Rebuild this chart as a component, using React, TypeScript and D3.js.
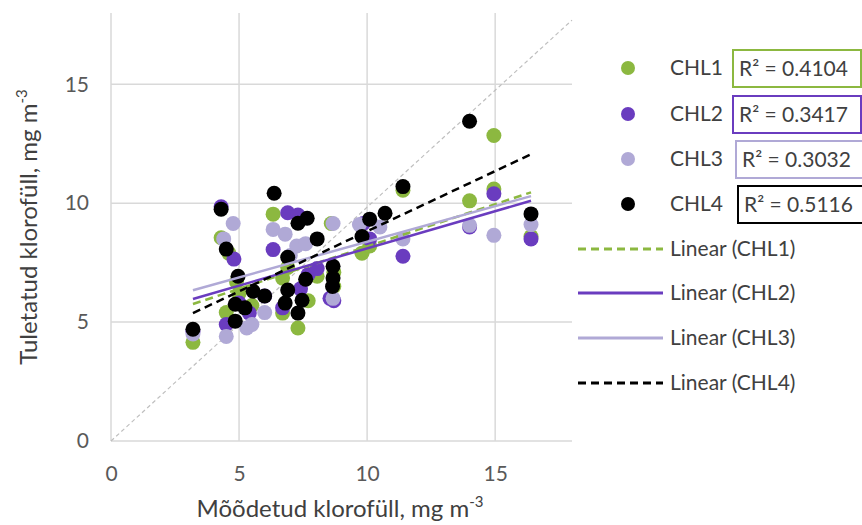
import { useEffect, useRef } from 'react'
import * as d3 from 'd3'

const seriesNames = ['CHL1', 'CHL2', 'CHL3', 'CHL4']
const rSquared = ['0.4104', '0.3417', '0.3032', '0.5116']
const xTicks = [0, 5, 10, 15]
const yTicks = [0, 5, 10, 15]

const chl1 = [
  [3.2, 4.15], [4.3, 8.55], [4.6, 7.9], [4.9, 6.7], [4.5, 5.4], [5.0, 6.2], [5.5, 5.7],
  [6.33, 9.54], [6.7, 6.85], [6.7, 5.38], [7.3, 4.75], [7.7, 5.9], [8.05, 6.93], [8.6, 9.15],
  [6.9, 7.3], [8.7, 7.1], [8.7, 6.5], [9.8, 7.9], [10.1, 8.2], [11.4, 10.55], [14.0, 10.1],
  [14.95, 12.85], [14.95, 10.6], [16.4, 8.6],
]
const chl2 = [
  [3.2, 4.6], [4.3, 9.85], [4.8, 7.65], [4.5, 4.9], [5.4, 5.38], [5.0, 5.8], [6.0, 6.1],
  [6.33, 8.05], [6.7, 5.6], [6.9, 9.6], [7.3, 9.5], [7.4, 6.4], [7.7, 7.0], [8.05, 7.25],
  [8.55, 6.0], [8.7, 5.9], [9.85, 9.15], [10.1, 8.5], [11.4, 7.77], [14.0, 9.0],
  [14.95, 10.4], [16.4, 8.5],
]
const chl3 = [
  [3.2, 4.5], [4.77, 9.15], [4.4, 8.5], [4.5, 4.4], [5.3, 4.75], [5.5, 4.9], [6.0, 5.4],
  [6.33, 8.9], [6.8, 8.7], [7.0, 7.8], [7.25, 8.2], [7.6, 8.3], [8.67, 9.15], [8.67, 6.0],
  [9.7, 9.1], [10.5, 9.0], [11.4, 8.5], [14.0, 9.07], [14.95, 8.65], [16.4, 9.1],
]
const chl4 = [
  [3.2, 4.7], [4.3, 9.75], [4.5, 8.07], [4.96, 6.93], [4.85, 5.75], [5.23, 5.6], [4.85, 5.04],
  [5.55, 6.3], [6.0, 6.1], [6.37, 10.42], [6.9, 7.73], [6.9, 6.35], [6.8, 5.8], [7.3, 9.16],
  [7.66, 9.37], [7.46, 5.92], [7.3, 5.38], [7.6, 6.8], [8.05, 8.5], [8.67, 7.35], [8.67, 6.85],
  [8.65, 6.5], [9.8, 8.6], [10.1, 9.33], [10.7, 9.58], [11.4, 10.7], [14.0, 13.45], [16.4, 9.55],
]

// linear trendlines as Excel drew them (slope, intercept), over the measured range
const trendSlopes = [0.356, 0.313, 0.3, 0.506]
const trendIntercepts = [4.62, 4.97, 5.38, 3.76]
const trendRange = [3.2, 16.4]
const oneToOne = [[0, 0], [18, 17.7]]

const colors = ['#8cb840', '#6a3cbf', '#b0a9d6', '#000000']
const dashes = ['8,5', null, null, '8,5']
const font = 'Lato, "Liberation Sans", sans-serif'

function App() {
  const ref = useRef<SVGSVGElement>(null)

  useEffect(() => {
    const width = 862,
      height = 525
    const x = d3.scaleLinear().domain([0, 18]).range([111, 572])
    const y = d3.scaleLinear().domain([0, 18]).range([441, 13])
    const xy = d3
      .line<number[]>()
      .x((d) => x(d[0]))
      .y((d) => y(d[1]))

    const svg = d3.select(ref.current)
    svg.selectAll('*').remove()
    svg.attr('width', width).attr('height', height)
    svg.append('rect').attr('width', width).attr('height', height).attr('fill', '#fff')

    // grid
    svg
      .append('g')
      .selectAll('line')
      .data(yTicks)
      .join('line')
      .attr('x1', x(0))
      .attr('x2', x(18))
      .attr('y1', (d) => y(d))
      .attr('y2', (d) => y(d))
      .attr('stroke', '#d9d9d9')
      .attr('stroke-width', 1.5)
    svg
      .append('g')
      .selectAll('line')
      .data(xTicks)
      .join('line')
      .attr('x1', (d) => x(d))
      .attr('x2', (d) => x(d))
      .attr('y1', y(0))
      .attr('y2', y(18))
      .attr('stroke', '#d9d9d9')
      .attr('stroke-width', 1.5)

    // axes (labels only)
    const xAxis = svg
      .append('g')
      .attr('transform', `translate(0,${y(0)})`)
      .call(d3.axisBottom(x).tickValues(xTicks).tickSize(0).tickPadding(25))
    const yAxis = svg
      .append('g')
      .attr('transform', `translate(${x(0)},0)`)
      .call(d3.axisLeft(y).tickValues(yTicks).tickSize(0).tickPadding(22))
    ;[xAxis, yAxis].forEach((g) => {
      g.select('.domain').remove()
      g.selectAll('text').attr('font-family', font).attr('font-size', 21).attr('fill', '#595959')
    })

    // 1:1 line
    svg
      .append('path')
      .attr('d', xy(oneToOne))
      .attr('stroke', '#bfbfbf')
      .attr('stroke-width', 1.2)
      .attr('stroke-dasharray', '4,3')
      .attr('fill', 'none')

    // points
    const series = [chl1, chl2, chl3, chl4]
    series.forEach((pts, i) => {
      svg
        .append('g')
        .selectAll('circle')
        .data(pts)
        .join('circle')
        .attr('cx', (d) => x(d[0]))
        .attr('cy', (d) => y(d[1]))
        .attr('r', 7.5)
        .attr('fill', colors[i])
    })

    // trendlines
    series.forEach((_, i) => {
      const pts = trendRange.map((v) => [v, trendSlopes[i] * v + trendIntercepts[i]])
      const p = svg
        .append('path')
        .attr('d', xy(pts))
        .attr('stroke', colors[i])
        .attr('stroke-width', 2.5)
        .attr('fill', 'none')
      if (dashes[i]) p.attr('stroke-dasharray', dashes[i])
    })

    // legend: markers + r² boxes
    const lg = svg.append('g').attr('font-family', font).attr('font-size', 21).attr('fill', '#404040')
    const markerY = [68, 114, 159, 204]
    const boxX = [733, 733, 736, 738]
    seriesNames.forEach((name, i) => {
      lg.append('circle').attr('cx', 628).attr('cy', markerY[i]).attr('r', 7).attr('fill', colors[i])
      lg.append('text').attr('x', 670).attr('y', markerY[i] + 7).text(name)
      lg.append('rect')
        .attr('x', boxX[i])
        .attr('y', markerY[i] - 18)
        .attr('width', 128)
        .attr('height', 37)
        .attr('fill', '#fff')
        .attr('stroke', colors[i])
        .attr('stroke-width', 2)
      lg.append('text')
        .attr('x', boxX[i] + 6)
        .attr('y', markerY[i] + 8)
        .text(`R² = ${rSquared[i]}`)
    })
    const lineY = [249, 293, 338, 383]
    seriesNames.forEach((name, i) => {
      const l = lg
        .append('line')
        .attr('x1', 578)
        .attr('x2', 663)
        .attr('y1', lineY[i])
        .attr('y2', lineY[i])
        .attr('stroke', colors[i])
        .attr('stroke-width', 3)
      if (dashes[i]) l.attr('stroke-dasharray', dashes[i])
      lg.append('text').attr('x', 670).attr('y', lineY[i] + 7).text(`Linear (${name})`)
    })

    // titles
    const xt = svg
      .append('text')
      .attr('x', 340)
      .attr('y', 517)
      .attr('text-anchor', 'middle')
      .attr('font-family', font)
      .attr('font-size', 24)
      .attr('fill', '#404040')
    xt.append('tspan').text('Mõõdetud klorofüll, mg m')
    xt.append('tspan').attr('dy', -10).attr('font-size', 15).text('-3')

    const yt = svg
      .append('text')
      .attr('transform', `translate(37,227) rotate(-90)`)
      .attr('text-anchor', 'middle')
      .attr('font-family', font)
      .attr('font-size', 24)
      .attr('fill', '#404040')
    yt.append('tspan').text('Tuletatud klorofüll, mg m')
    yt.append('tspan').attr('dy', -10).attr('font-size', 15).text('-3')
  }, [])

  return <svg ref={ref} style={{ position: 'absolute', left: 0, top: 0, display: 'block' }} />
}

export default App
